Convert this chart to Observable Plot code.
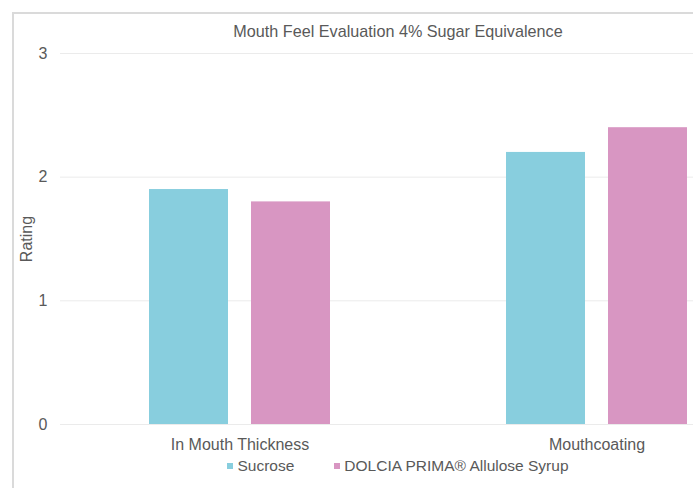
<!DOCTYPE html>
<html>
<head>
<meta charset="utf-8">
<script src="https://cdn.jsdelivr.net/npm/d3@7"></script>
<script src="https://cdn.jsdelivr.net/npm/@observablehq/plot@0.6"></script>
<style>
  html, body { margin: 0; padding: 0; overflow: hidden; background: #fff; }
  #wrap { position: relative; width: 693px; height: 488px; overflow: hidden;
          font-family: "Liberation Sans", Arial, sans-serif; color: #595959; }
  #frame { position: absolute; left: 12px; top: 12px; width: 820px; height: 500px;
           border-left: 2px solid #dadada; border-top: 2px solid #dadada; }
  #chart { position: absolute; left: 0; top: 0; width: 800px; }
  #title { position: absolute; left: 0; top: 22px; width: 796px; text-align: center;
           font-size: 16.2px; line-height: 18px; white-space: nowrap; }
  #legend { position: absolute; left: 0; top: 457px; width: 796px; text-align: center;
            font-size: 15.5px; line-height: 18px; white-space: nowrap; }
  #legend .item { display: inline-block; margin: 0 20px; }
  #legend .sw { display: inline-block; width: 6px; height: 6px; margin-right: 4px; vertical-align: 2px; }
</style>
</head>
<body>
<div id="wrap">
  <div id="frame"></div>
  <div id="chart"></div>
  <div id="title"></div>
  <div id="legend"></div>
</div>
<script>
const title = "Mouth Feel Evaluation 4% Sugar Equivalence";
const categories = ["In Mouth Thickness", "Mouthcoating"];
const series = ["Sucrose", "DOLCIA PRIMA® Allulose Syrup"];
const sucrose = [1.9, 2.2];
const allulose = [1.8, 2.4];
const yTicks = [0, 1, 2, 3];
const yLabel = "Rating";
const colors = ["#88cede", "#d896c2"];

const rows = categories.flatMap((c, i) => [
  {category: c, series: series[0], value: sucrose[i]},
  {category: c, series: series[1], value: allulose[i]}
]);

const textColor = "#595959";
const chart = Plot.plot({
  width: 776,
  height: 488,
  marginLeft: 60,
  marginRight: 0,
  marginTop: 53,
  marginBottom: 64,
  style: {fontFamily: '"Liberation Sans", Arial, sans-serif', fontSize: "16px",
          color: textColor, background: "transparent", maxWidth: "none"},
  x: {domain: categories, paddingInner: 0.4916, paddingOuter: 0.246, label: null},
  y: {domain: [0, 3], label: yLabel},
  color: {domain: series, range: colors},
  marks: [
    Plot.gridY(yTicks, {stroke: "#ebebeb", strokeOpacity: 1}),
    Plot.barY(rows.filter(d => d.series === series[0]),
      {x: "category", y: "value", fill: "series", insetRight: 102}),
    Plot.barY(rows.filter(d => d.series === series[1]),
      {x: "category", y: "value", fill: "series", insetLeft: 102}),
    Plot.axisX({tickSize: 0, tickPadding: 14, fontSize: 16, fill: textColor, label: null}),
    Plot.axisY(yTicks, {tickSize: 0, tickPadding: 13, fontSize: 16, fill: textColor,
      tickFormat: d3.format("d"),
      label: yLabel, labelAnchor: "center", labelOffset: 40, labelArrow: false})
  ]
});
document.getElementById("chart").appendChild(chart);
document.getElementById("title").textContent = title;

const legend = document.getElementById("legend");
series.forEach((s, i) => {
  const item = document.createElement("span");
  item.className = "item";
  const sw = document.createElement("span");
  sw.className = "sw";
  sw.style.background = colors[i];
  item.appendChild(sw);
  item.appendChild(document.createTextNode(s));
  legend.appendChild(item);
});
</script>
</body>
</html>
